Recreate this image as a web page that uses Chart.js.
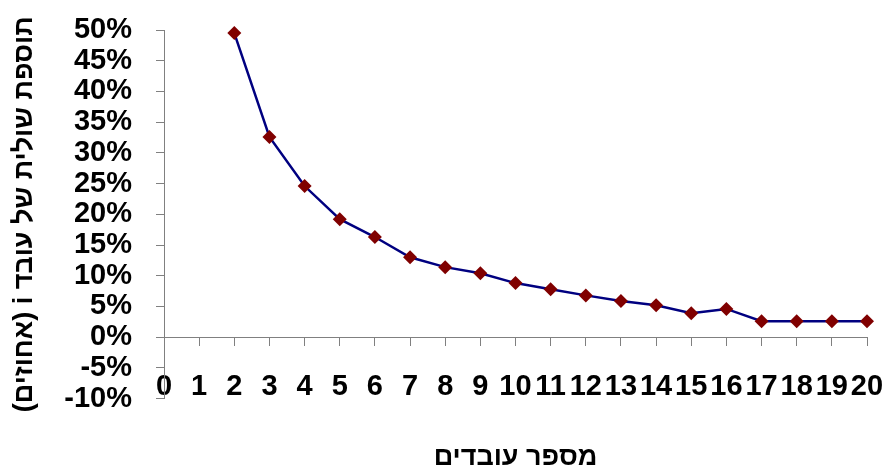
<!DOCTYPE html>
<html>
<head>
<meta charset="utf-8">
<script src="https://cdn.jsdelivr.net/npm/chart.js@4/dist/chart.umd.min.js"></script>
<style>
html,body{margin:0;padding:0;background:#fff}
#wrap{width:888px;height:474px}
</style>
</head>
<body>
<div id="wrap"><canvas id="chart"></canvas></div>
<script>

// =============================
// DATA
// =============================

const workerLabels = ["0","1","2","3","4","5","6","7","8","9","10","11","12","13","14","15","16","17","18","19","20"]

// marginal addition per worker, from worker 2 to worker 20 (percent)
const firstWorker = 2
const marginalPct = [49.5,32.6,24.6,19.2,16.3,13.0,11.4,10.4,8.8,7.8,6.8,5.9,5.2,3.9,4.6,2.6,2.6,2.6,2.6]

// RLE ... PDF so the canvas lays the hebrew out right to left
const yTitle = "\u202Bתוספת שולית של עובד i (אחוזים)\u202C"
const xTitle = "מספר עובדים"


// =============================
// BUILD SERIES
// =============================

const seriesData = workerLabels.map((lbl,i)=>{
let k = i-firstWorker
return (k>=0 && k<marginalPct.length) ? marginalPct[k] : null
})

const axisGray = "#808080"
const labelFont = {family:"'Liberation Sans', Arial, sans-serif", size:29, weight:"bold"}
const titleFont = {family:"'Liberation Sans', Arial, sans-serif", size:27, weight:"bold"}


// =============================
// CHART
// =============================

const ctx = document.getElementById("chart")

new Chart(ctx,{

type:"line",

data:{
labels:workerLabels,
datasets:[{
data:seriesData,
clip:false,
borderColor:"#000080",
borderWidth:2.5,
tension:0,
pointStyle:"rectRot",
pointRadius:7,
pointBackgroundColor:"#800000",
pointBorderColor:"#800000",
pointBorderWidth:0,
spanGaps:false
}]
},

options:{
responsive:true,
maintainAspectRatio:false,
animation:false,
layout:{
padding:{left:0,right:21,top:30,bottom:0}
},
plugins:{
legend:{display:false},
tooltip:{enabled:false},
title:{
display:true,
position:"bottom",
fullSize:false,
text:xTitle,
color:"#000",
font:titleFont,
padding:{top:43,bottom:0}
}
},
scales:{
x:{
type:"category",
position:{y:0},
offset:false,
afterFit:(scale)=>{ scale.paddingLeft = 0; scale.paddingRight = 0 },
grid:{
display:true,
drawOnChartArea:false,
drawTicks:true,
tickLength:8,
color:axisGray
},
border:{display:true,color:axisGray,width:1},
ticks:{
color:"#000",
font:labelFont,
padding:24,
autoSkip:false,
maxRotation:0,
minRotation:0
}
},
y:{
min:-10,
max:50,
afterFit:(scale)=>{ scale.width = 164; scale.paddingTop = 0; scale.paddingBottom = 0 },
grid:{
display:true,
drawOnChartArea:false,
drawTicks:true,
tickLength:8,
color:axisGray
},
border:{display:true,color:axisGray,width:1},
ticks:{
stepSize:5,
autoSkip:false,
color:"#000",
font:labelFont,
padding:24,
callback:(v)=>v+"%"
},
title:{
display:true,
text:yTitle,
color:"#000",
font:titleFont,
padding:{top:8,bottom:0}
}
}
}
}

})

</script>
</body>
</html>
